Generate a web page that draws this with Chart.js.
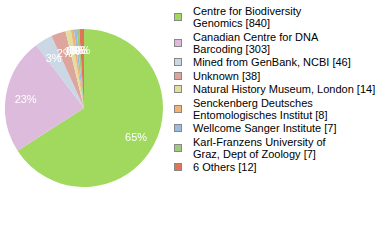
<!DOCTYPE html>
<html><head><meta charset="utf-8">
<script src="https://cdn.jsdelivr.net/npm/chart.js@4/dist/chart.umd.min.js"></script>
<style>
html,body{margin:0;padding:0;background:#fff;width:380px;height:240px;overflow:hidden;}
#pie{position:absolute;left:5px;top:29px;width:158px;height:158px;}
#legend{position:absolute;left:174px;top:5px;font-family:"Liberation Sans";font-size:11px;color:#000;line-height:12px;white-space:nowrap;}
.item{display:flex;align-items:center;margin-bottom:1.5px;}
.box{width:6px;height:6px;border:1px solid #888;margin-right:11px;flex:none;}
</style></head><body>
<div id="pie"><canvas id="c"></canvas></div>
<div id="legend"></div>
<script>
const categories = [
  ["Centre for Biodiversity", "Genomics [840]"],
  ["Canadian Centre for DNA", "Barcoding [303]"],
  ["Mined from GenBank, NCBI [46]"],
  ["Unknown [38]"],
  ["Natural History Museum, London [14]"],
  ["Senckenberg Deutsches", "Entomologisches Institut [8]"],
  ["Wellcome Sanger Institute [7]"],
  ["Karl-Franzens University of", "Graz, Dept of Zoology [7]"],
  ["6 Others [12]"]
];
const values = [840, 303, 46, 38, 14, 8, 7, 7, 12];
const colors = ["#a0d95e", "#dcbbdd", "#c9d8e4", "#dea59e", "#e0e09c", "#f0b275", "#9bbbe0", "#a2c97b", "#e07358"];

const total = values.reduce((a, b) => a + b, 0);

const labelPlugin = {
  id: 'pctLabels',
  afterDatasetsDraw(chart) {
    const ctx = chart.ctx;
    const meta = chart.getDatasetMeta(0);
    ctx.save();
    ctx.fillStyle = '#fff';
    ctx.font = '11px "Liberation Sans"';
    ctx.textAlign = 'center';
    ctx.textBaseline = 'middle';
    meta.data.forEach((arc, i) => {
      const p = arc.getProps(['x', 'y', 'startAngle', 'endAngle', 'outerRadius'], true);
      const mid = (p.startAngle + p.endAngle) / 2;
      const r = p.outerRadius * 0.75;
      const pct = Math.floor(values[i] / total * 100) + '%';
      ctx.fillText(pct, p.x + Math.cos(mid) * r, p.y + Math.sin(mid) * r + 2);
    });
    ctx.restore();
  }
};

new Chart(document.getElementById('c'), {
  type: 'pie',
  data: {
    labels: categories.map(c => c.join(' ')),
    datasets: [{ data: values, backgroundColor: colors, borderWidth: 0 }]
  },
  options: {
    responsive: true,
    maintainAspectRatio: false,
    animation: false,
    plugins: { legend: { display: false }, tooltip: { enabled: false } }
  },
  plugins: [labelPlugin]
});

const leg = document.getElementById('legend');
categories.forEach((lines, i) => {
  const it = document.createElement('div');
  it.className = 'item';
  const b = document.createElement('div');
  b.className = 'box';
  b.style.background = colors[i];
  const t = document.createElement('div');
  t.innerHTML = lines.map(s => s.replace(/&/g, '&amp;')).join('<br>');
  it.appendChild(b); it.appendChild(t);
  leg.appendChild(it);
});
</script>
</body></html>
